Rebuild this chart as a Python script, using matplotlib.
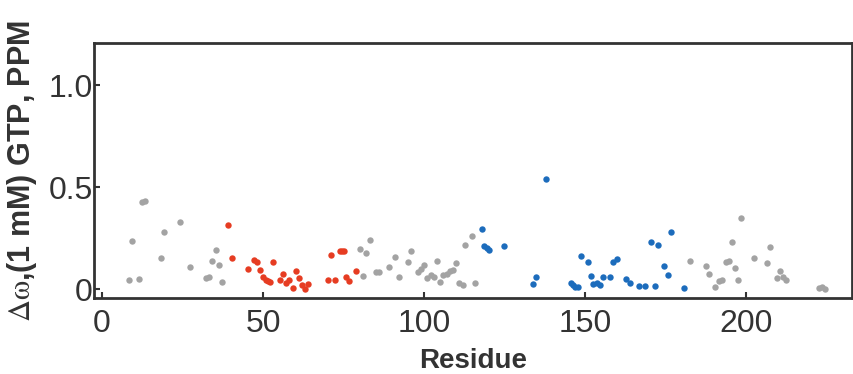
import matplotlib
matplotlib.use('Agg')
import matplotlib.pyplot as plt

# residue number / chemical shift change, grouped by colour
grey_x = [8.4, 11.4, 9.3, 12.3, 13.4, 19.3, 18.2, 24.2, 27.2, 32.3, 33.2, 35.3, 34.3, 36.2, 37.3,
          80.1, 81.1, 82.1, 83.1, 85.1, 86.1, 89.0, 91.1, 92.1, 95.0, 96.0, 98.0, 99.0, 100.0,
          101.0, 102.1, 103.0, 104.0, 105.0, 106.0, 107.0, 108.1, 109.0, 109.9, 111.0, 112.0,
          112.8, 115.0, 115.8, 182.7, 187.6, 188.6, 190.5, 191.5, 192.5, 193.8, 194.7, 195.7,
          196.6, 197.6, 198.5, 202.6, 206.5, 207.5, 209.5, 210.6, 211.6, 212.5, 222.5, 223.5, 224.5]
grey_y = [0.044, 0.049, 0.234, 0.425, 0.433, 0.278, 0.152, 0.328, 0.109, 0.052, 0.059, 0.191, 0.136,
          0.118, 0.034, 0.198, 0.065, 0.176, 0.24, 0.085, 0.082, 0.109, 0.158, 0.06, 0.132, 0.185,
          0.083, 0.1, 0.116, 0.054, 0.067, 0.057, 0.139, 0.034, 0.067, 0.072, 0.088, 0.093, 0.129,
          0.028, 0.021, 0.217, 0.261, 0.031, 0.137, 0.114, 0.072, 0.011, 0.039, 0.047, 0.134, 0.136,
          0.23, 0.101, 0.046, 0.35, 0.15, 0.127, 0.204, 0.052, 0.09, 0.059, 0.044, 0.005, 0.01, 0.002]

red_x = [39.2, 40.3, 45.2, 47.1, 48.1, 49.2, 50.1, 50.9, 51.6, 52.3, 53.1, 55.2, 56.2, 57.2, 58.2,
         59.2, 60.2, 61.2, 62.2, 63.1, 64.1, 70.1, 71.1, 72.2, 73.8, 74.6, 75.3, 75.8, 76.8, 79.0]
red_y = [0.314, 0.154, 0.100, 0.142, 0.132, 0.095, 0.057, 0.047, 0.039, 0.034, 0.131, 0.047, 0.073,
         0.029, 0.044, 0.007, 0.091, 0.056, 0.02, 0.002, 0.025, 0.047, 0.168, 0.044, 0.186, 0.186,
         0.186, 0.06, 0.041, 0.09]

blue_x = [117.9, 118.6, 119.4, 120.1, 124.8, 133.9, 134.8, 137.9, 145.7, 146.4, 147.0, 147.8, 148.8,
          150.8, 151.9, 152.6, 153.6, 154.7, 155.7, 157.8, 158.7, 159.8, 162.7, 163.8, 166.8, 168.7,
          170.6, 171.7, 172.7, 174.6, 175.7, 176.6, 180.6]
blue_y = [0.293, 0.209, 0.201, 0.193, 0.212, 0.023, 0.06, 0.538, 0.029, 0.018, 0.010, 0.011, 0.16,
          0.134, 0.064, 0.025, 0.031, 0.018, 0.057, 0.057, 0.131, 0.149, 0.049, 0.028, 0.016, 0.016,
          0.232, 0.013, 0.216, 0.113, 0.07, 0.279, 0.005]

x_ticks = [0, 50, 100, 150, 200]
y_ticks = [0, 0.5, 1.0]
y_tick_labels = ['0', '0.5', '1.0']

plt.rcParams['font.family'] = ['Liberation Sans', 'DejaVu Sans']
plt.rcParams['mathtext.fontset'] = 'stix'

fig = plt.figure(figsize=(8.54, 3.74), dpi=100)
ax = fig.add_axes([0.110, 0.203, 0.8877, 0.682])

ms = 4.6
ax.plot(grey_x, grey_y, 'o', color='#a3a3a3', markersize=ms, markeredgewidth=0)
ax.plot(red_x, red_y, 'o', color='#e63c22', markersize=ms, markeredgewidth=0)
ax.plot(blue_x, blue_y, 'o', color='#1c6cbc', markersize=ms, markeredgewidth=0)

ax.set_xlim(-2.5, 232.9)
ax.set_ylim(-0.044, 1.206)
ax.set_xticks(x_ticks)
ax.set_yticks(y_ticks)
ax.set_yticklabels(y_tick_labels)

for s in ax.spines.values():
    s.set_linewidth(2)
    s.set_color('#333333')
ax.tick_params(direction='in', length=4, width=1.5, color='#333333',
               labelsize=23, labelcolor='#333333')
ax.tick_params(axis='y', pad=1)
ax.tick_params(axis='x', pad=8)

ax.set_xlabel('Residue', fontsize=20, fontweight='bold', color='#333333', labelpad=6)
ax.set_ylabel(r'$\mathrm{\Delta\omega}$,(1 mM) GTP, PPM', fontsize=22, fontweight='bold',
              color='#333333', labelpad=7)

fig.savefig('out.png', dpi=100)
